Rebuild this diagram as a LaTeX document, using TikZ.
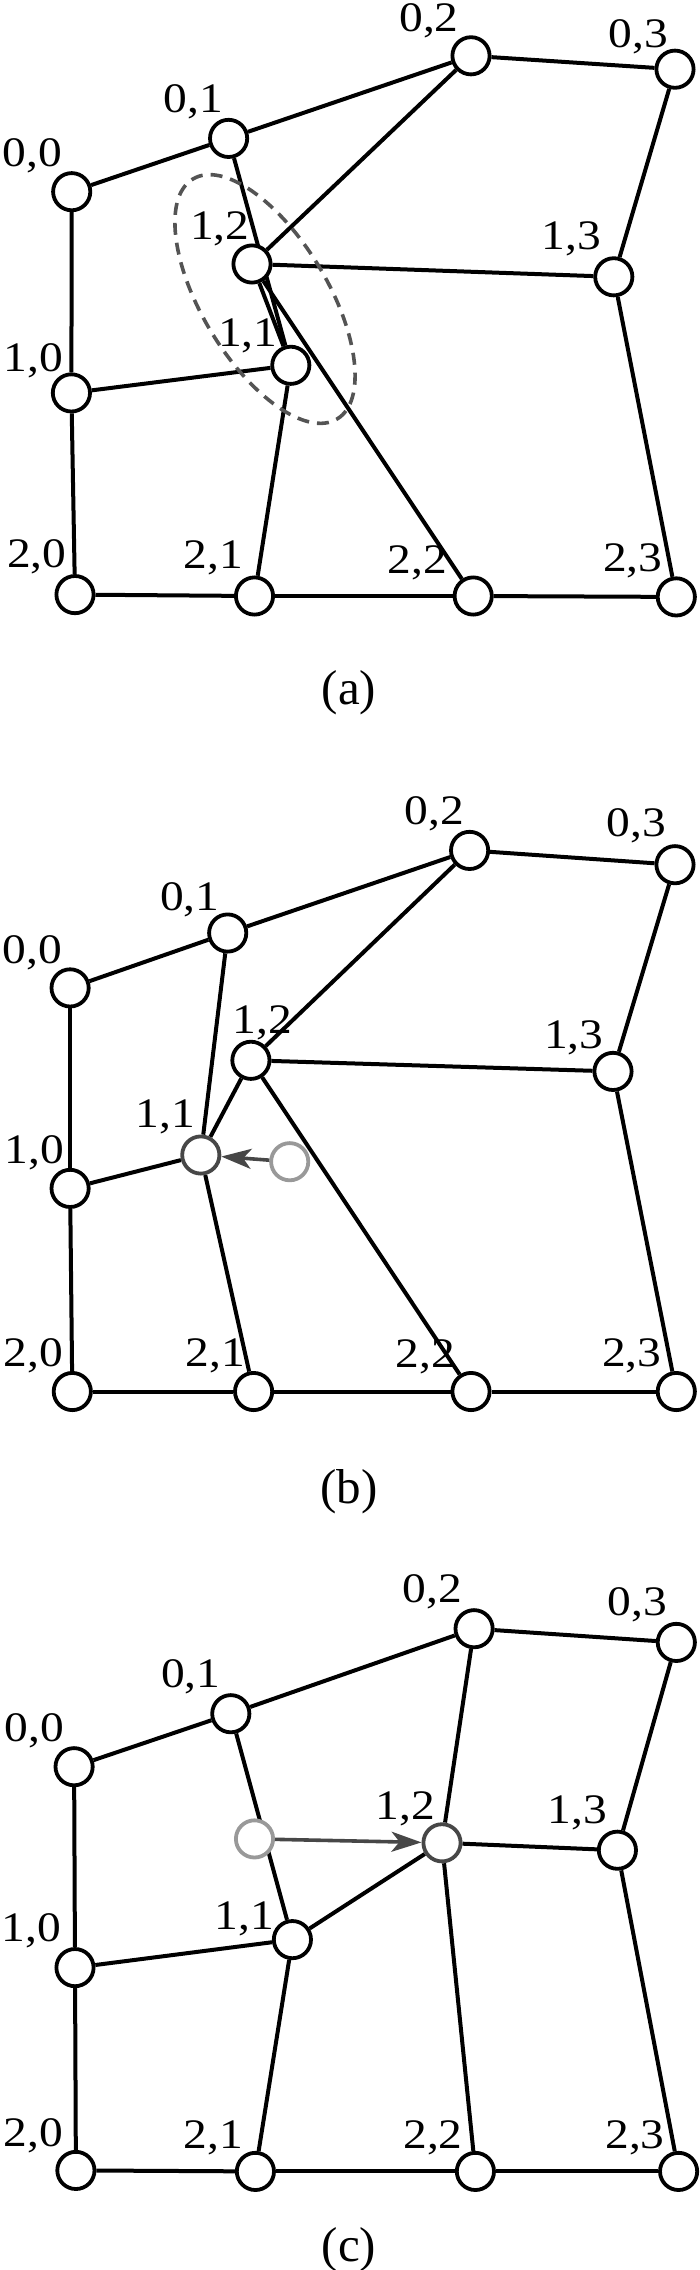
\documentclass[tikz,border=0pt]{standalone}
\usepackage{fontspec}
\setmainfont{Liberation Serif}
\newfontfamily\lblfont{Liberation Serif}[FakeStretch=1.13]
\usetikzlibrary{arrows.meta,backgrounds}
\begin{document}
\begin{tikzpicture}[x=1pt,y=-1pt,
  vtx/.style={circle,draw=black,fill=white,line width=3.8pt,minimum size=37.2pt,inner sep=0pt},
  ghostvtx/.style={vtx,draw=black!40},
  movedvtx/.style={vtx,draw=black!72},
  edge/.style={line width=4pt,draw=black},
  lbl/.style={anchor=base,inner sep=0pt,font=\lblfont\fontsize{42}{42}\selectfont},
  captxt/.style={anchor=base,inner sep=0pt,font=\fontsize{49}{49}\selectfont},
  mv/.style={line width=3.6pt,draw=black!72,-{Stealth[length=30pt,width=20pt,inset=8pt]}},
  sel/.style={draw=black!67,line width=3.6pt,dash pattern=on 12pt off 8pt}
]
\useasboundingbox (0,0) rectangle (700,2270);

% ---------- panel (a) ----------
\node[vtx] (a00) at (71.7,191.7) {};
\node[vtx] (a01) at (228.6,138.4) {};
\node[vtx] (a02) at (471,55.8) {};
\node[vtx] (a03) at (675,69.2) {};
\node[vtx] (a10) at (71.4,392.9) {};
\node[vtx] (a11) at (290.8,365.3) {};
\node[vtx] (a12) at (252,264) {};
\node[vtx] (a13) at (613.8,276.8) {};
\node[vtx] (a20) at (75,594.6) {};
\node[vtx] (a21) at (254.5,596) {};
\node[vtx] (a22) at (473.2,596) {};
\node[vtx] (a23) at (676.3,596.9) {};

\node[lbl] (la00) at (32.4,166.2) {0,0};
\node[lbl] (la01) at (193.5,112.2) {0,1};
\node[lbl] (la02) at (429,31.9) {0,2};
\node[lbl] (la03) at (638.4,47) {0,3};
\node[lbl] (la12) at (219.9,239.4) {1,2};
\node[lbl] (la13) at (571.4,249.9) {1,3};
\node[lbl] (la11) at (247.8,346.6) {1,1};
\node[lbl] (la10) at (33.5,371.1) {1,0};
\node[lbl] (la20) at (36.8,567.5) {2,0};
\node[lbl] (la21) at (213.2,568.5) {2,1};
\node[lbl] (la22) at (417.4,573) {2,2};
\node[lbl] (la23) at (632.8,571) {2,3};

\begin{scope}[shift={(265,299)},rotate=-59]
  \draw[sel] (0,0) ellipse [x radius=140pt, y radius=63pt];
\end{scope}

\node[captxt] (capa) at (349,704) {(a)};

% ---------- panel (b) ----------
\node[vtx] (b00) at (70.1,987.9) {};
\node[vtx] (b01) at (227.7,933) {};
\node[vtx] (b02) at (469.6,850.4) {};
\node[vtx] (b03) at (675,864.7) {};
\node[vtx] (b10) at (70.1,1188.4) {};
\node[movedvtx] (b11) at (200.8,1155) {};
\node[ghostvtx] (gb) at (289.7,1161.7) {};
\node[vtx] (b12) at (250.9,1060.3) {};
\node[vtx] (b13) at (613,1071.4) {};
\node[vtx] (b20) at (72.3,1391.5) {};
\node[vtx] (b21) at (253.6,1391.5) {};
\node[vtx] (b22) at (471,1391.5) {};
\node[vtx] (b23) at (676.3,1391.5) {};

\node[lbl] (lb00) at (32.4,963.6) {0,0};
\node[lbl] (lb01) at (189.7,910.2) {0,1};
\node[lbl] (lb02) at (434.2,824.3) {0,2};
\node[lbl] (lb03) at (636.6,836.5) {0,3};
\node[lbl] (lb12) at (262.3,1033) {1,2};
\node[lbl] (lb13) at (573.7,1048.6) {1,3};
\node[lbl] (lb11) at (165.2,1127.8) {1,1};
\node[lbl] (lb10) at (34.6,1163.6) {1,0};
\node[lbl] (lb20) at (33.5,1366.2) {2,0};
\node[lbl] (lb21) at (215.4,1366.7) {2,1};
\node[lbl] (lb22) at (425.2,1367.8) {2,2};
\node[lbl] (lb23) at (631.7,1366.7) {2,3};

\draw[mv] (gb) -- (b11);
\node[captxt] (capb) at (349,1503.7) {(b)};

% ---------- panel (c) ----------
\node[vtx] (c00) at (74.1,1766.7) {};
\node[vtx] (c01) at (230.8,1713.7) {};
\node[vtx] (c02) at (474.1,1628.7) {};
\node[vtx] (c03) at (676.3,1642.4) {};
\node[ghostvtx] (gc) at (254.5,1838.9) {};
\node[movedvtx] (c12) at (442,1842.8) {};
\node[vtx] (c13) at (617.4,1850.2) {};
\node[vtx] (c11) at (292.4,1939.6) {};
\node[vtx] (c10) at (75,1967.6) {};
\node[vtx] (c20) at (75.9,2170.4) {};
\node[vtx] (c21) at (255.4,2171.4) {};
\node[vtx] (c22) at (475.4,2171.4) {};
\node[vtx] (c23) at (678.6,2171.4) {};

\node[lbl] (lc00) at (34.6,1741.2) {0,0};
\node[lbl] (lc01) at (190.8,1687.1) {0,1};
\node[lbl] (lc02) at (432.4,1602.4) {0,2};
\node[lbl] (lc03) at (637.3,1615.9) {0,3};
\node[lbl] (lc12) at (405.1,1819.7) {1,2};
\node[lbl] (lc13) at (577.5,1823.4) {1,3};
\node[lbl] (lc11) at (244.4,1929) {1,1};
\node[lbl] (lc10) at (31.3,1941.3) {1,0};
\node[lbl] (lc20) at (33.5,2146.4) {2,0};
\node[lbl] (lc21) at (213.2,2148.8) {2,1};
\node[lbl] (lc22) at (433,2148.8) {2,2};
\node[lbl] (lc23) at (635,2148.8) {2,3};

\draw[mv] (gc) -- (c12);
\node[captxt] (capc) at (349,2261) {(c)};

% ---------- mesh edges (behind the vertices) ----------
\begin{pgfonlayer}{background}
  \foreach \p in {a,b,c}{
    \foreach \u/\v in {00/01,01/02,02/03,00/10,10/20,01/11,02/12,03/13,10/11,11/12,12/13,11/21,12/22,13/23,20/21,21/22,22/23}{
      \draw[edge] (\p\u) -- (\p\v);
    }
  }
\end{pgfonlayer}
\end{tikzpicture}
\end{document}
